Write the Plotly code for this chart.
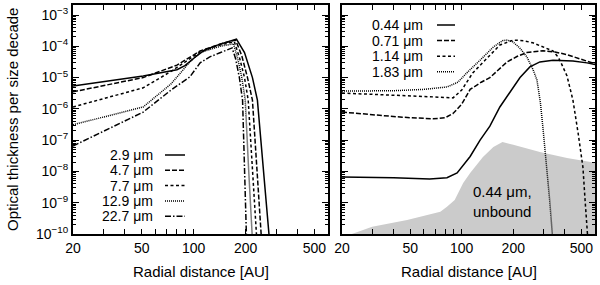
import math
import plotly.graph_objects as go

# ---------------- data: left panel (bound grains) ----------------
r_29 = [20, 51, 80, 89, 101, 116, 142, 177, 197, 219, 234, 254, 273, 285]
tau_29 = [5.4e-6, 1.12e-5, 1.78e-5, 2.4e-5, 4.3e-5, 7.6e-5, 1.17e-4, 1.7e-4, 6.3e-5, 1.0e-5, 1.9e-6, 1.26e-8, 1.0e-10, 1.6e-11]

r_47 = [20, 51, 80, 95, 109, 142, 175, 190, 205, 219, 233, 246, 255]
tau_47 = [3.5e-6, 1.0e-5, 2.5e-5, 4.4e-5, 7.1e-5, 1.17e-4, 1.58e-4, 5.0e-5, 1.0e-5, 1.9e-6, 1.26e-8, 1.0e-10, 1.6e-11]

r_77 = [20, 51, 74, 95, 109, 142, 172, 185, 197, 207, 220, 231, 240]
tau_77 = [1.15e-6, 4.7e-6, 1.58e-5, 4.0e-5, 6.6e-5, 1.1e-4, 1.41e-4, 4.0e-5, 1.0e-5, 1.9e-6, 1.26e-8, 1.0e-10, 1.6e-11]

r_129 = [20, 51, 74, 95, 109, 142, 170, 180, 190, 199, 208, 216, 222]
tau_129 = [3.1e-7, 1.15e-6, 6.3e-6, 3.16e-5, 6.3e-5, 1.0e-4, 1.2e-4, 4.0e-5, 1.0e-5, 1.9e-6, 1.26e-8, 1.0e-10, 1.6e-11]

r_227 = [20, 51, 74, 95, 109, 124, 142, 167, 175, 184, 192, 197, 202, 207]
tau_227 = [6.5e-8, 7.9e-7, 4.0e-6, 1.05e-5, 2.95e-5, 4.6e-5, 6.2e-5, 8.9e-5, 4.0e-5, 1.0e-5, 1.9e-6, 1.26e-8, 1.0e-10, 1.6e-11]

# ---------------- data: right panel (small grains) ----------------
r_044 = [20, 40, 65, 82, 94, 112, 128, 146, 167, 191, 219, 250, 286, 341, 446, 539, 600]
tau_044 = [6.6e-9, 6.3e-9, 5.75e-9, 6.3e-9, 8.9e-9, 3.0e-8, 1.0e-7, 2.8e-7, 1.15e-6, 3.5e-6, 1.0e-5, 2.2e-5, 3.16e-5, 3.6e-5, 3.4e-5, 2.95e-5, 2.6e-5]

r_071 = [20, 30, 45, 68, 80, 89, 100, 112, 130, 146, 165, 184, 210, 240, 298, 350, 412, 500, 600]
tau_071 = [7.9e-7, 6.6e-7, 5.4e-7, 4.8e-7, 5.2e-7, 7.1e-7, 1.41e-6, 4.2e-6, 7.1e-6, 1.0e-5, 1.78e-5, 3.16e-5, 4.7e-5, 6.3e-5, 7.2e-5, 6.6e-5, 5.4e-5, 3.8e-5, 2.75e-5]

r_114 = [20, 40, 70, 89, 100, 116, 141, 167, 200, 230, 260, 298, 341, 360, 375, 412, 446, 478, 510, 525, 540, 555]
tau_114 = [3.2e-6, 2.8e-6, 2.4e-6, 2.24e-6, 4.0e-6, 1.41e-5, 4.3e-5, 1.1e-4, 1.58e-4, 1.51e-4, 1.29e-4, 9.5e-5, 7.1e-5, 5.0e-5, 3.5e-5, 1.12e-5, 1.9e-6, 1.7e-7, 1.38e-8, 1.23e-9, 1.07e-10, 1.6e-11]

r_183 = [20, 40, 60, 82, 95, 107, 128, 153, 173, 185, 199, 218, 240, 261, 275, 288, 298, 312, 326, 338, 345]
tau_183 = [3.7e-6, 3.8e-6, 4.2e-6, 5.0e-6, 7.1e-6, 1.41e-5, 3.6e-5, 9.5e-5, 1.51e-4, 1.58e-4, 1.38e-4, 8.9e-5, 4.6e-5, 1.78e-5, 8.3e-6, 1.58e-6, 2.5e-7, 2.0e-8, 1.26e-9, 1.0e-10, 2.5e-11]

r_unbound = [20, 22, 30, 48, 75, 82, 91, 102, 112, 133, 153, 173, 200, 286, 412, 600]
tau_unbound = [7.1e-11, 9.3e-11, 1.7e-10, 2.8e-10, 5.1e-10, 7.4e-10, 1.23e-9, 4.3e-9, 8.9e-9, 2.9e-8, 6.0e-8, 8.7e-8, 7.1e-8, 4.2e-8, 2.7e-8, 1.9e-8]
tau_floor = 1e-12

# ---------------- ticks ----------------
x_tickvals = [20, 50, 100, 200, 500]
x_ticktext = ["20", "50", "100", "200", "500"]
x_minor = [30, 40, 60, 70, 80, 90, 300, 400, 600]
y_tickvals = [1e-10, 1e-9, 1e-8, 1e-7, 1e-6, 1e-5, 1e-4, 1e-3]
y_ticktext = ["10<sup>−10</sup>", "10<sup>−9</sup>", "10<sup>−8</sup>", "10<sup>−7</sup>",
              "10<sup>−6</sup>", "10<sup>−5</sup>", "10<sup>−4</sup>", "10<sup>−3</sup>"]
y_minor = [k * d for d in y_tickvals for k in range(2, 10)]

left_labels = ["2.9 μm", "4.7 μm", "7.7 μm", "12.9 μm", "22.7 μm"]
right_labels = ["0.44 μm", "0.71 μm", "1.14 μm", "1.83 μm"]

FONT = "Liberation Sans, Arial, Helvetica, sans-serif"
W, H = 600, 285

dash_styles = ["solid", "5px,2px", "3px,2.5px", "1px,1px", "6px,2px,1.5px,2px"]

left = [(r_29, tau_29), (r_47, tau_47), (r_77, tau_77), (r_129, tau_129), (r_227, tau_227)]
right = [(r_044, tau_044), (r_071, tau_071), (r_114, tau_114), (r_183, tau_183)]

fig = go.Figure()

# unbound grains filled area (right panel)
fig.add_trace(go.Scatter(
    x=r_unbound + r_unbound[::-1],
    y=tau_unbound + [tau_floor] * len(r_unbound),
    fill="toself", fillcolor="#cbcbcb", mode="lines", line=dict(width=0),
    xaxis="x2", yaxis="y2", showlegend=False, hoverinfo="skip"))

for (x, y), d in zip(left, dash_styles):
    fig.add_trace(go.Scatter(x=x, y=y, mode="lines",
                             line=dict(color="black", width=1.5, dash=d),
                             xaxis="x", yaxis="y", showlegend=False))
for (x, y), d in zip(right, dash_styles):
    fig.add_trace(go.Scatter(x=x, y=y, mode="lines",
                             line=dict(color="black", width=1.5, dash=d),
                             xaxis="x2", yaxis="y2", showlegend=False))

def px(xp):
    return xp / W

def py(yp):
    return 1 - yp / H

xr = [math.log10(20), math.log10(600)]
yr = [-10, -2.68]

xcommon = dict(type="log", range=xr, tickmode="array", tickvals=x_tickvals, ticktext=x_ticktext,
               tickangle=0,
               ticks="inside", ticklen=5, tickwidth=1, tickcolor="black",
               minor=dict(tickmode="array", tickvals=x_minor, ticks="inside", ticklen=5,
                          tickcolor="black", tickwidth=1, showgrid=False),
               showline=True, linecolor="black", linewidth=2, mirror="allticks",
               showgrid=False, zeroline=False, automargin=False,
               tickfont=dict(family=FONT, size=14, color="black"))
ycommon = dict(type="log", range=yr, tickmode="array", tickvals=y_tickvals, ticktext=y_ticktext,
               ticks="inside", ticklen=6, tickwidth=1, tickcolor="black",
               minor=dict(tickmode="array", tickvals=y_minor, ticks="inside", ticklen=3,
                          tickcolor="black", tickwidth=1, showgrid=False),
               showline=True, linecolor="black", linewidth=2, mirror="allticks",
               showgrid=False, zeroline=False, automargin=False,
               tickfont=dict(family=FONT, size=14, color="black"),
               domain=[py(234), py(5)])

fig.update_layout(
    width=W, height=H, margin=dict(l=0, r=0, t=0, b=0),
    paper_bgcolor="white", plot_bgcolor="white",
    font=dict(family=FONT, size=14, color="black"),
    xaxis=dict(xcommon, domain=[px(73), px(328)], anchor="y"),
    xaxis2=dict(xcommon, domain=[px(342), px(595)], anchor="y2"),
    yaxis=dict(ycommon, anchor="x"),
    yaxis2=dict(ycommon, anchor="x2", showticklabels=False),
)

annotations = []
shapes = []
# axis titles
annotations.append(dict(text="Optical thickness per size decade", xref="paper", yref="paper",
                        x=px(12), y=py(120), textangle=-90, showarrow=False,
                        font=dict(family=FONT, size=15), xanchor="center", yanchor="middle"))
for cx in [(73 + 328) / 2, (342 + 595) / 2]:
    annotations.append(dict(text="Radial distance [AU]", xref="paper", yref="paper",
                            x=px(cx), y=py(271), showarrow=False,
                            font=dict(family=FONT, size=15), xanchor="center", yanchor="middle"))

# left legend
for i, (lab, d) in enumerate(zip(left_labels, dash_styles)):
    yy = 155 + i * 15.3
    annotations.append(dict(text=lab, xref="paper", yref="paper", x=px(155), y=py(yy),
                            xanchor="right", yanchor="middle", showarrow=False,
                            font=dict(family=FONT, size=14)))
    shapes.append(dict(type="line", xref="paper", yref="paper", x0=px(165), x1=px(185),
                       y0=py(yy), y1=py(yy), line=dict(color="black", width=1.5, dash=d)))
# right legend
for i, (lab, d) in enumerate(zip(right_labels, dash_styles)):
    yy = 25 + i * 15.6
    annotations.append(dict(text=lab, xref="paper", yref="paper", x=px(425), y=py(yy),
                            xanchor="right", yanchor="middle", showarrow=False,
                            font=dict(family=FONT, size=14)))
    shapes.append(dict(type="line", xref="paper", yref="paper", x0=px(437), x1=px(455),
                       y0=py(yy), y1=py(yy), line=dict(color="black", width=1.5, dash=d)))

annotations.append(dict(text="0.44 μm,<br>unbound", xref="paper", yref="paper",
                        x=px(471), y=py(201), xanchor="left", yanchor="middle", align="left",
                        showarrow=False, font=dict(family=FONT, size=15)))

fig.update_layout(annotations=annotations, shapes=shapes)
fig.write_html("out.html", config={"displayModeBar": False},
               post_script="document.body.style.margin='0px';")
